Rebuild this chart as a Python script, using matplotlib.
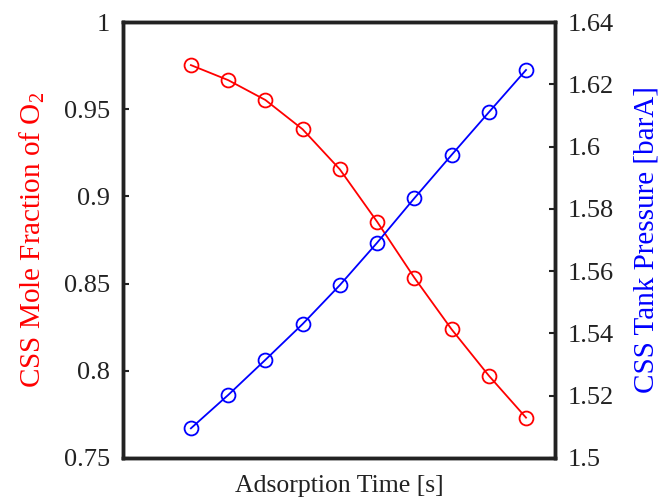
import numpy as np
import matplotlib.pyplot as plt

# Data (10 adsorption time steps, no x tick labels)
step = np.arange(1, 11)
mole_fraction_o2 = [0.9753, 0.9667, 0.9553, 0.9385, 0.9155,
                    0.8855, 0.8534, 0.8238, 0.7972, 0.7731]
tank_pressure = [1.5095, 1.5202, 1.5315, 1.5430, 1.5555,
                 1.5691, 1.5834, 1.5973, 1.6110, 1.6246]

left_ticks = [0.75, 0.8, 0.85, 0.9, 0.95, 1]
left_labels = ['0.75', '0.8', '0.85', '0.9', '0.95', '1']
right_ticks = [1.5, 1.52, 1.54, 1.56, 1.58, 1.6, 1.62, 1.64]
right_labels = ['1.5', '1.52', '1.54', '1.56', '1.58', '1.6', '1.62', '1.64']

plt.rcParams['font.family'] = ['Liberation Serif', 'DejaVu Serif']
plt.rcParams['mathtext.fontset'] = 'custom'
plt.rcParams['mathtext.rm'] = 'Liberation Serif'
plt.rcParams['mathtext.it'] = 'Liberation Serif:italic'

fig = plt.figure(figsize=(6.6, 5.01), dpi=100)
ax = fig.add_axes([0.186, 0.086, 0.655, 0.870])
ax2 = ax.twinx()

ax.plot(step, mole_fraction_o2, color='red', linewidth=1.3, marker='o',
        markersize=10, markerfacecolor='none', markeredgewidth=1.3)
ax2.plot(step, tank_pressure, color='blue', linewidth=1.3, marker='o',
         markersize=10, markerfacecolor='none', markeredgewidth=1.3)

ax.set_xlim(-0.83, 10.78)
ax.set_ylim(0.75, 1)
ax2.set_ylim(1.5, 1.64)
ax.set_xticks([])

ax.set_yticks(left_ticks)
ax.set_yticklabels(left_labels)
ax2.set_yticks(right_ticks)
ax2.set_yticklabels(right_labels)

for a in (ax, ax2):
    a.tick_params(axis='y', direction='in', length=4, width=1.5,
                  labelsize=19, colors='#222222', pad=9)
    for s in a.spines.values():
        s.set_linewidth(2.5)
        s.set_color('#222222')

ax.set_ylabel('CSS Mole Fraction of O$_2$', color='red', fontsize=21, labelpad=12)
ax2.set_ylabel('CSS Tank Pressure [barA]', color='blue', fontsize=21, labelpad=14)
ax.set_xlabel('Adsorption Time [s]', color='#222222', fontsize=18.5, labelpad=12)

fig.savefig('out.png', dpi=100)
